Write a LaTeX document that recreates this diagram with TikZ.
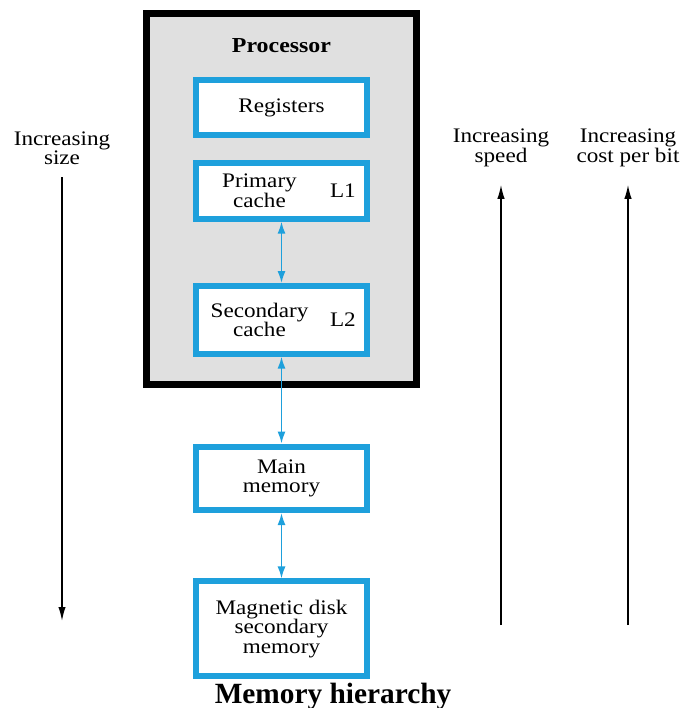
\documentclass[tikz,border=0pt]{standalone}
\usepackage{fontspec}
\setmainfont[FakeStretch=1.12]{Liberation Serif}
\newfontfamily\headfont{Liberation Serif}
\usetikzlibrary{positioning,arrows.meta}
\definecolor{cacheblue}{RGB}{30,160,220}
\definecolor{chipgray}{RGB}{224,224,224}

\begin{document}
\begin{tikzpicture}[x=0.75pt,y=-0.75pt,
  every node/.style={font=\fontsize{15.5}{14.5}\selectfont, align=center},
  membox/.style={draw=cacheblue, line width=4.5pt, fill=white, minimum width=128pt, minimum height=41.6pt},
  chip/.style={draw=black, line width=5.25pt, fill=chipgray, minimum width=202.5pt, minimum height=278.6pt},
  busline/.style={cacheblue, line width=1.3pt, {Latex[length=9pt,width=6pt]}-{Latex[length=9pt,width=6pt]}},
  trend/.style={line width=1.1pt, -{Latex[length=10.5pt,width=5.5pt]}}]
\useasboundingbox (0,0) rectangle (681,708);

% processor chip with its two cache levels
\node (cpu) [chip] at (281.5,199.25) {};
\node (cpuname) [anchor=base] at ([yshift=-31.5pt]cpu.north) {\bfseries\fontsize{16}{18}\selectfont Processor};
\node (reg) [membox, below=50pt of cpu.north] {Registers};
\node (l1) [membox, below=16.5pt of reg] {};
\node (l1name) at ([xshift=-16.5pt]l1.center) {Primary\\cache};
\node (l1tag) [anchor=east] at ([xshift=-7pt]l1.east) {L1};
\node (l2) [membox, minimum height=50.6pt, below=46.1pt of l1] {};
\node (l2name) at ([xshift=-16.5pt]l2.center) {Secondary\\cache};
\node (l2tag) [anchor=east] at ([xshift=-7pt]l2.east) {L2};

% off-chip levels
\node (mem) [membox, minimum height=47.6pt, below=65.25pt of l2] {Main\\memory};
\node (disk) [membox, minimum height=71.25pt, below=49.1pt of mem] {Magnetic disk\\secondary\\memory};

\draw[busline] (l1) -- (l2);
\draw[busline] (l2) -- (mem);
\draw[busline] (mem) -- (disk);

% trends along the hierarchy
\node (size) at (62,148) {Increasing\\size};
\coordinate (sizeend) at (62,621);
\draw[trend, shorten <=6pt] (size) -- (sizeend);

\node (speed) at (501,148) {Increasing\\speed};
\coordinate (speedend) at (501,625);
\draw[trend, shorten >=10pt] (speedend) -- (speed);

\node (cost) at (628,148) {Increasing\\cost per bit};
\coordinate (costend) at (628,625);
\draw[trend, shorten >=10pt] (costend) -- (cost);

\node (caption) [anchor=base] at (333,703) {\headfont\bfseries\fontsize{22}{24}\selectfont Memory hierarchy};
\end{tikzpicture}
\end{document}
